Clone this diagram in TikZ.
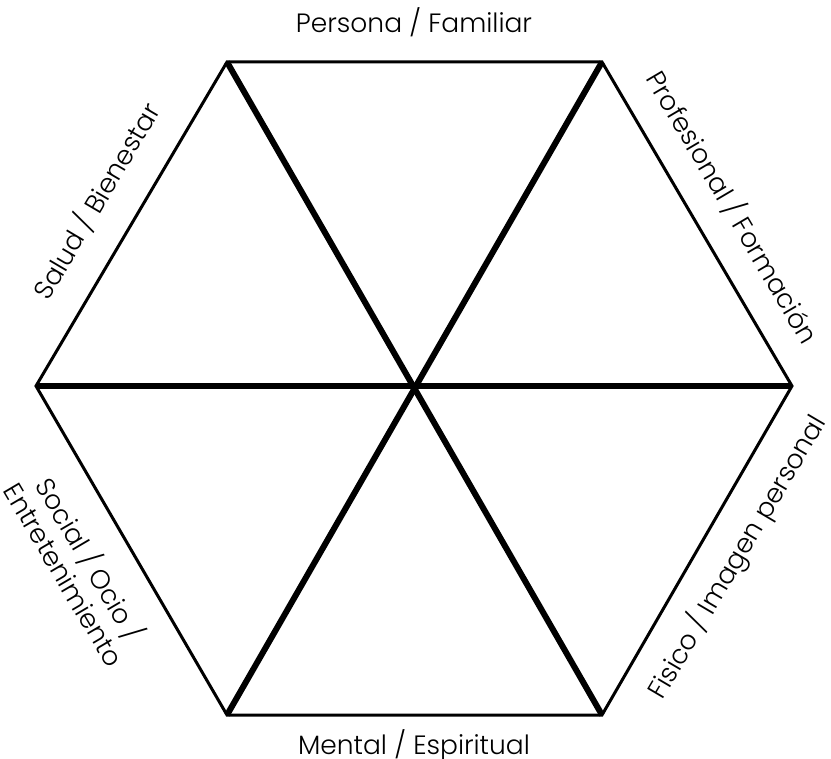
\documentclass[tikz,border=0pt]{standalone}
\usepackage{fontspec}
\IfFontExistsTF{Poppins Light}{\setmainfont{Poppins Light}}{\setmainfont{Poppins}}
\begin{document}
\begin{tikzpicture}[x=1pt,y=-1pt,
  edge/.style={line width=3pt},
  spoke/.style={line width=6pt},
  lbl/.style={font=\fontsize{26.5}{30}\selectfont, inner sep=0pt, align=center}]
\useasboundingbox (0,0) rectangle (831,759);
\coordinate (TL) at (227,62);
\coordinate (TR) at (602,62);
\coordinate (R) at (792,386);
\coordinate (BR) at (602,715);
\coordinate (BL) at (227,715);
\coordinate (L) at (36,386);
\coordinate (C) at (414.5,386);
\draw[edge] (TL) -- (TR) -- (R) -- (BR) -- (BL) -- (L) -- cycle;
\draw[spoke] (L) -- (R);
\draw[spoke] (TL) -- (BR);
\draw[spoke] (TR) -- (BL);
\node[lbl] (top) at (414,22) {Persona / Familiar};
\node[lbl] (bot) at (414,745) {Mental / Espiritual};
\node[lbl, rotate=59.5] (ul) at (96,201) {Salud / Bienestar};
\node[lbl, rotate=-59.5] (ur) at (733,207) {Profesional / Formación};
\node[lbl, rotate=59.5] (lr) at (737,557) {Fisico / Imagen personal};
\node[lbl, rotate=-59.5] (ll) at (79,566) {Social / Ocio /\\Entretenimiento};
\end{tikzpicture}
\end{document}
